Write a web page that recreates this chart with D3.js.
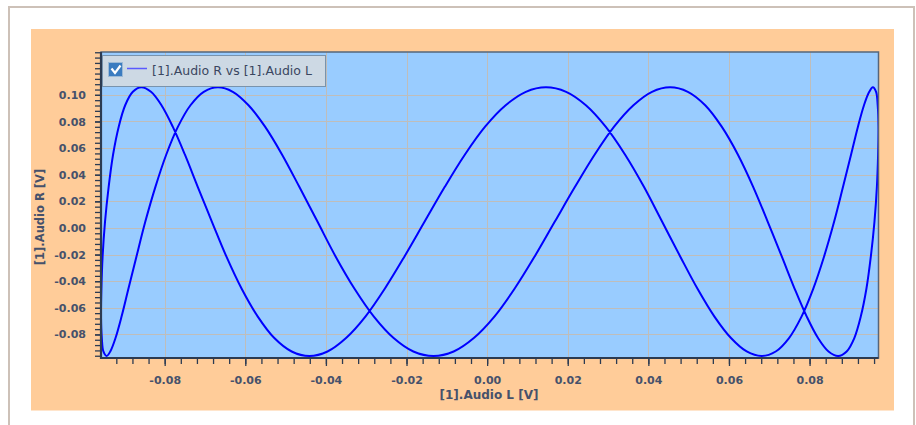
<!DOCTYPE html>
<html>
<head>
<meta charset="utf-8">
<script src="https://cdn.jsdelivr.net/npm/d3@7/dist/d3.min.js"></script>
<style>
  html, body { margin: 0; padding: 0; background: #ffffff; }
  svg { display: block; }
  text { font-family: "DejaVu Sans", Verdana, sans-serif; }
</style>
</head>
<body>
<svg id="chart" width="916" height="425"></svg>
<script>
// Audio L channel samples [V] (horizontal)
const audioL = [
  0.0146, 0.0196, 0.0245, 0.0294, 0.0342, 0.0389, 0.0434, 0.0479, 0.0522, 0.0564,
  0.0605, 0.0644, 0.0681, 0.0716, 0.0749, 0.0780, 0.0809, 0.0836, 0.0861, 0.0883,
  0.0903, 0.0920, 0.0935, 0.0948, 0.0957, 0.0965, 0.0969, 0.0971, 0.0970, 0.0967,
  0.0961, 0.0952, 0.0941, 0.0927, 0.0911, 0.0892, 0.0871, 0.0847, 0.0821, 0.0793,
  0.0763, 0.0731, 0.0696, 0.0660, 0.0622, 0.0582, 0.0541, 0.0498, 0.0454, 0.0409,
  0.0363, 0.0315, 0.0267, 0.0218, 0.0168, 0.0118, 0.0068, 0.0018, -0.0033, -0.0083,
  -0.0133, -0.0183, -0.0232, -0.0281, -0.0329, -0.0376, -0.0421, -0.0466, -0.0509, -0.0551,
  -0.0592, -0.0631, -0.0668, -0.0703, -0.0736, -0.0767, -0.0796, -0.0823, -0.0848, -0.0870,
  -0.0890, -0.0907, -0.0922, -0.0935, -0.0944, -0.0952, -0.0956, -0.0958, -0.0957, -0.0954,
  -0.0948, -0.0939, -0.0928, -0.0914, -0.0898, -0.0879, -0.0858, -0.0834, -0.0808, -0.0780,
  -0.0750, -0.0718, -0.0683, -0.0647, -0.0609, -0.0569, -0.0528, -0.0485, -0.0441, -0.0396,
  -0.0350, -0.0302, -0.0254, -0.0205, -0.0155, -0.0105, -0.0055, -0.0005, 0.0046, 0.0096
];

// Audio R channel samples [V] (vertical), same sample instants as audioL
const audioR = [
  0.1057, 0.1023, 0.0922, 0.0761, 0.0552, 0.0309, 0.0048, -0.0214, -0.0457, -0.0666,
  -0.0827, -0.0928, -0.0962, -0.0928, -0.0827, -0.0666, -0.0457, -0.0214, 0.0048, 0.0309,
  0.0552, 0.0761, 0.0922, 0.1023, 0.1057, 0.1023, 0.0922, 0.0761, 0.0552, 0.0309,
  0.0048, -0.0214, -0.0457, -0.0666, -0.0827, -0.0928, -0.0962, -0.0928, -0.0827, -0.0666,
  -0.0457, -0.0214, 0.0048, 0.0309, 0.0552, 0.0761, 0.0922, 0.1023, 0.1057, 0.1023,
  0.0922, 0.0761, 0.0552, 0.0309, 0.0048, -0.0214, -0.0457, -0.0666, -0.0827, -0.0928,
  -0.0962, -0.0928, -0.0827, -0.0666, -0.0457, -0.0214, 0.0048, 0.0309, 0.0552, 0.0761,
  0.0922, 0.1023, 0.1057, 0.1023, 0.0922, 0.0761, 0.0552, 0.0309, 0.0048, -0.0214,
  -0.0457, -0.0666, -0.0827, -0.0928, -0.0962, -0.0928, -0.0827, -0.0666, -0.0457, -0.0214,
  0.0048, 0.0309, 0.0552, 0.0761, 0.0922, 0.1023, 0.1057, 0.1023, 0.0922, 0.0761,
  0.0552, 0.0309, 0.0048, -0.0214, -0.0457, -0.0666, -0.0827, -0.0928, -0.0962, -0.0928,
  -0.0827, -0.0666, -0.0457, -0.0214, 0.0048, 0.0309, 0.0552, 0.0761, 0.0922, 0.1023
];

// Axis extents and tick labels
const xDomain = [-0.0958, 0.0971];
const yDomain = [-0.0977, 0.1322];
const xTickLabels = [-0.08, -0.06, -0.04, -0.02, 0.00, 0.02, 0.04, 0.06, 0.08];
const yTickLabels = [-0.08, -0.06, -0.04, -0.02, 0.00, 0.02, 0.04, 0.06, 0.08, 0.10];
const minorStep = 0.004;

const seriesName = "[1].Audio R vs [1].Audio L";
const xTitle = "[1].Audio L [V]";
const yTitle = "[1].Audio R [V]";

const points = audioL.map((l, i) => ({ l, r: audioR[i] }));

const svg = d3.select("#chart");
const plot = { left: 101, right: 878.5, top: 52, bottom: 358 };

const x = d3.scaleLinear().domain(xDomain).range([plot.left, plot.right]);
const y = d3.scaleLinear().domain(yDomain).range([plot.bottom, plot.top]);

const fmt = v => v.toFixed(2);
const labelColor = "#46516b";
const axisColor = "#2c3b52";

// Outer panel frame
svg.append("path")
  .attr("d", "M9,430 V7 H914 V430")
  .attr("fill", "none")
  .attr("stroke", "#cdc1b8")
  .attr("stroke-width", 2);

// Chart background
svg.append("rect")
  .attr("x", 31).attr("y", 29)
  .attr("width", 863).attr("height", 381.5)
  .attr("fill", "#ffcc99");

// Plot area
svg.append("rect")
  .attr("x", plot.left).attr("y", plot.top)
  .attr("width", plot.right - plot.left).attr("height", plot.bottom - plot.top)
  .attr("fill", "#99ccff");

// Grid lines
const grid = svg.append("g").attr("stroke", "#bfbdba").attr("stroke-width", 1);
grid.selectAll("line.gx").data(xTickLabels).join("line")
  .attr("x1", d => Math.round(x(d)) + 0.5).attr("x2", d => Math.round(x(d)) + 0.5)
  .attr("y1", plot.top).attr("y2", plot.bottom);
grid.selectAll("line.gy").data(yTickLabels).join("line")
  .attr("y1", d => Math.round(y(d)) + 0.5).attr("y2", d => Math.round(y(d)) + 0.5)
  .attr("x1", plot.left).attr("x2", plot.right);

// Lissajous trace
const clipId = "plot-clip";
svg.append("clipPath").attr("id", clipId).append("rect")
  .attr("x", plot.left).attr("y", plot.top)
  .attr("width", plot.right - plot.left).attr("height", plot.bottom - plot.top);

const line = d3.line()
  .x(d => x(d.l))
  .y(d => y(d.r))
  .curve(d3.curveCatmullRomClosed.alpha(0.5));

svg.append("path")
  .datum(points)
  .attr("clip-path", `url(#${clipId})`)
  .attr("d", line)
  .attr("fill", "none")
  .attr("stroke", "#0000ff")
  .attr("stroke-width", 2)
  .attr("stroke-linejoin", "round");

// Minor tick values
const xMinor = d3.range(Math.ceil(xDomain[0] / minorStep), Math.floor(xDomain[1] / minorStep) + 1)
  .map(k => k * minorStep);
const yMinor = d3.range(Math.ceil(yDomain[0] / minorStep), Math.floor(yDomain[1] / minorStep) + 1)
  .map(k => k * minorStep);

// X axis
const xAxisMinor = d3.axisBottom(x).tickValues(xMinor).tickSize(6).tickFormat("");
const xAxisMajor = d3.axisBottom(x).tickValues(xTickLabels).tickSize(8).tickPadding(10).tickFormat(fmt);
const gxMinor = svg.append("g").attr("transform", `translate(0,${plot.bottom})`).call(xAxisMinor);
const gxMajor = svg.append("g").attr("transform", `translate(0,${plot.bottom})`).call(xAxisMajor);
[gxMinor, gxMajor].forEach(g => {
  g.select(".domain").remove();
  g.selectAll(".tick line").attr("stroke", axisColor).attr("stroke-width", 1.3);
});
gxMajor.selectAll(".tick text")
  .attr("fill", labelColor)
  .attr("font-size", 11)
  .attr("font-weight", "bold")
  .attr("font-family", "DejaVu Sans, Verdana, sans-serif");

// Y axis
const yAxisMinor = d3.axisLeft(y).tickValues(yMinor).tickSize(6).tickFormat("");
const yAxisMajor = d3.axisLeft(y).tickValues(yTickLabels).tickSize(6).tickPadding(9).tickFormat(fmt);
const gyMinor = svg.append("g").attr("transform", `translate(${plot.left},0)`).call(yAxisMinor);
const gyMajor = svg.append("g").attr("transform", `translate(${plot.left},0)`).call(yAxisMajor);
[gyMinor, gyMajor].forEach(g => {
  g.select(".domain").remove();
  g.selectAll(".tick line").attr("stroke", axisColor).attr("stroke-width", 1.3);
});
gyMajor.selectAll(".tick text")
  .attr("fill", labelColor)
  .attr("font-size", 11)
  .attr("font-weight", "bold")
  .attr("font-family", "DejaVu Sans, Verdana, sans-serif");

// Plot border
svg.append("rect")
  .attr("x", plot.left).attr("y", plot.top)
  .attr("width", plot.right - plot.left).attr("height", plot.bottom - plot.top)
  .attr("fill", "none")
  .attr("stroke", "#56657a")
  .attr("stroke-width", 1.5);
svg.append("path")
  .attr("d", `M${plot.left},${plot.top} V${plot.bottom} H${plot.right}`)
  .attr("fill", "none")
  .attr("stroke", "#2c3b52")
  .attr("stroke-width", 2.2);

// Axis titles
svg.append("text")
  .attr("x", 489).attr("y", 399)
  .attr("text-anchor", "middle")
  .attr("fill", labelColor)
  .attr("font-size", 12)
  .attr("font-weight", "bold")
  .text(xTitle);

svg.append("text")
  .attr("transform", "translate(44,217) rotate(-90)")
  .attr("text-anchor", "middle")
  .attr("fill", labelColor)
  .attr("font-size", 11.5)
  .attr("font-weight", "bold")
  .text(yTitle);

// Legend
const legend = svg.append("g");
legend.append("rect")
  .attr("x", 102.5).attr("y", 55.5)
  .attr("width", 223).attr("height", 31)
  .attr("fill", "#cdd9e4")
  .attr("stroke", "#7893ad")
  .attr("stroke-width", 1);
legend.append("rect")
  .attr("x", 108.5).attr("y", 62.5)
  .attr("width", 14).attr("height", 14)
  .attr("fill", "#3b7cc0")
  .attr("stroke", "#9dbad6")
  .attr("stroke-width", 1);
legend.append("path")
  .attr("d", "M111.5,68.5 L115,73 L120.5,65.5")
  .attr("fill", "none")
  .attr("stroke", "#ffffff")
  .attr("stroke-width", 2.2);
legend.append("line")
  .attr("x1", 127).attr("x2", 147)
  .attr("y1", 68.5).attr("y2", 68.5)
  .attr("stroke", "#5a5aff")
  .attr("stroke-width", 1.5);
legend.append("text")
  .attr("x", 152).attr("y", 74.5)
  .attr("fill", "#3a4660")
  .attr("font-size", 12.5)
  .text(seriesName);
</script>
</body>
</html>
